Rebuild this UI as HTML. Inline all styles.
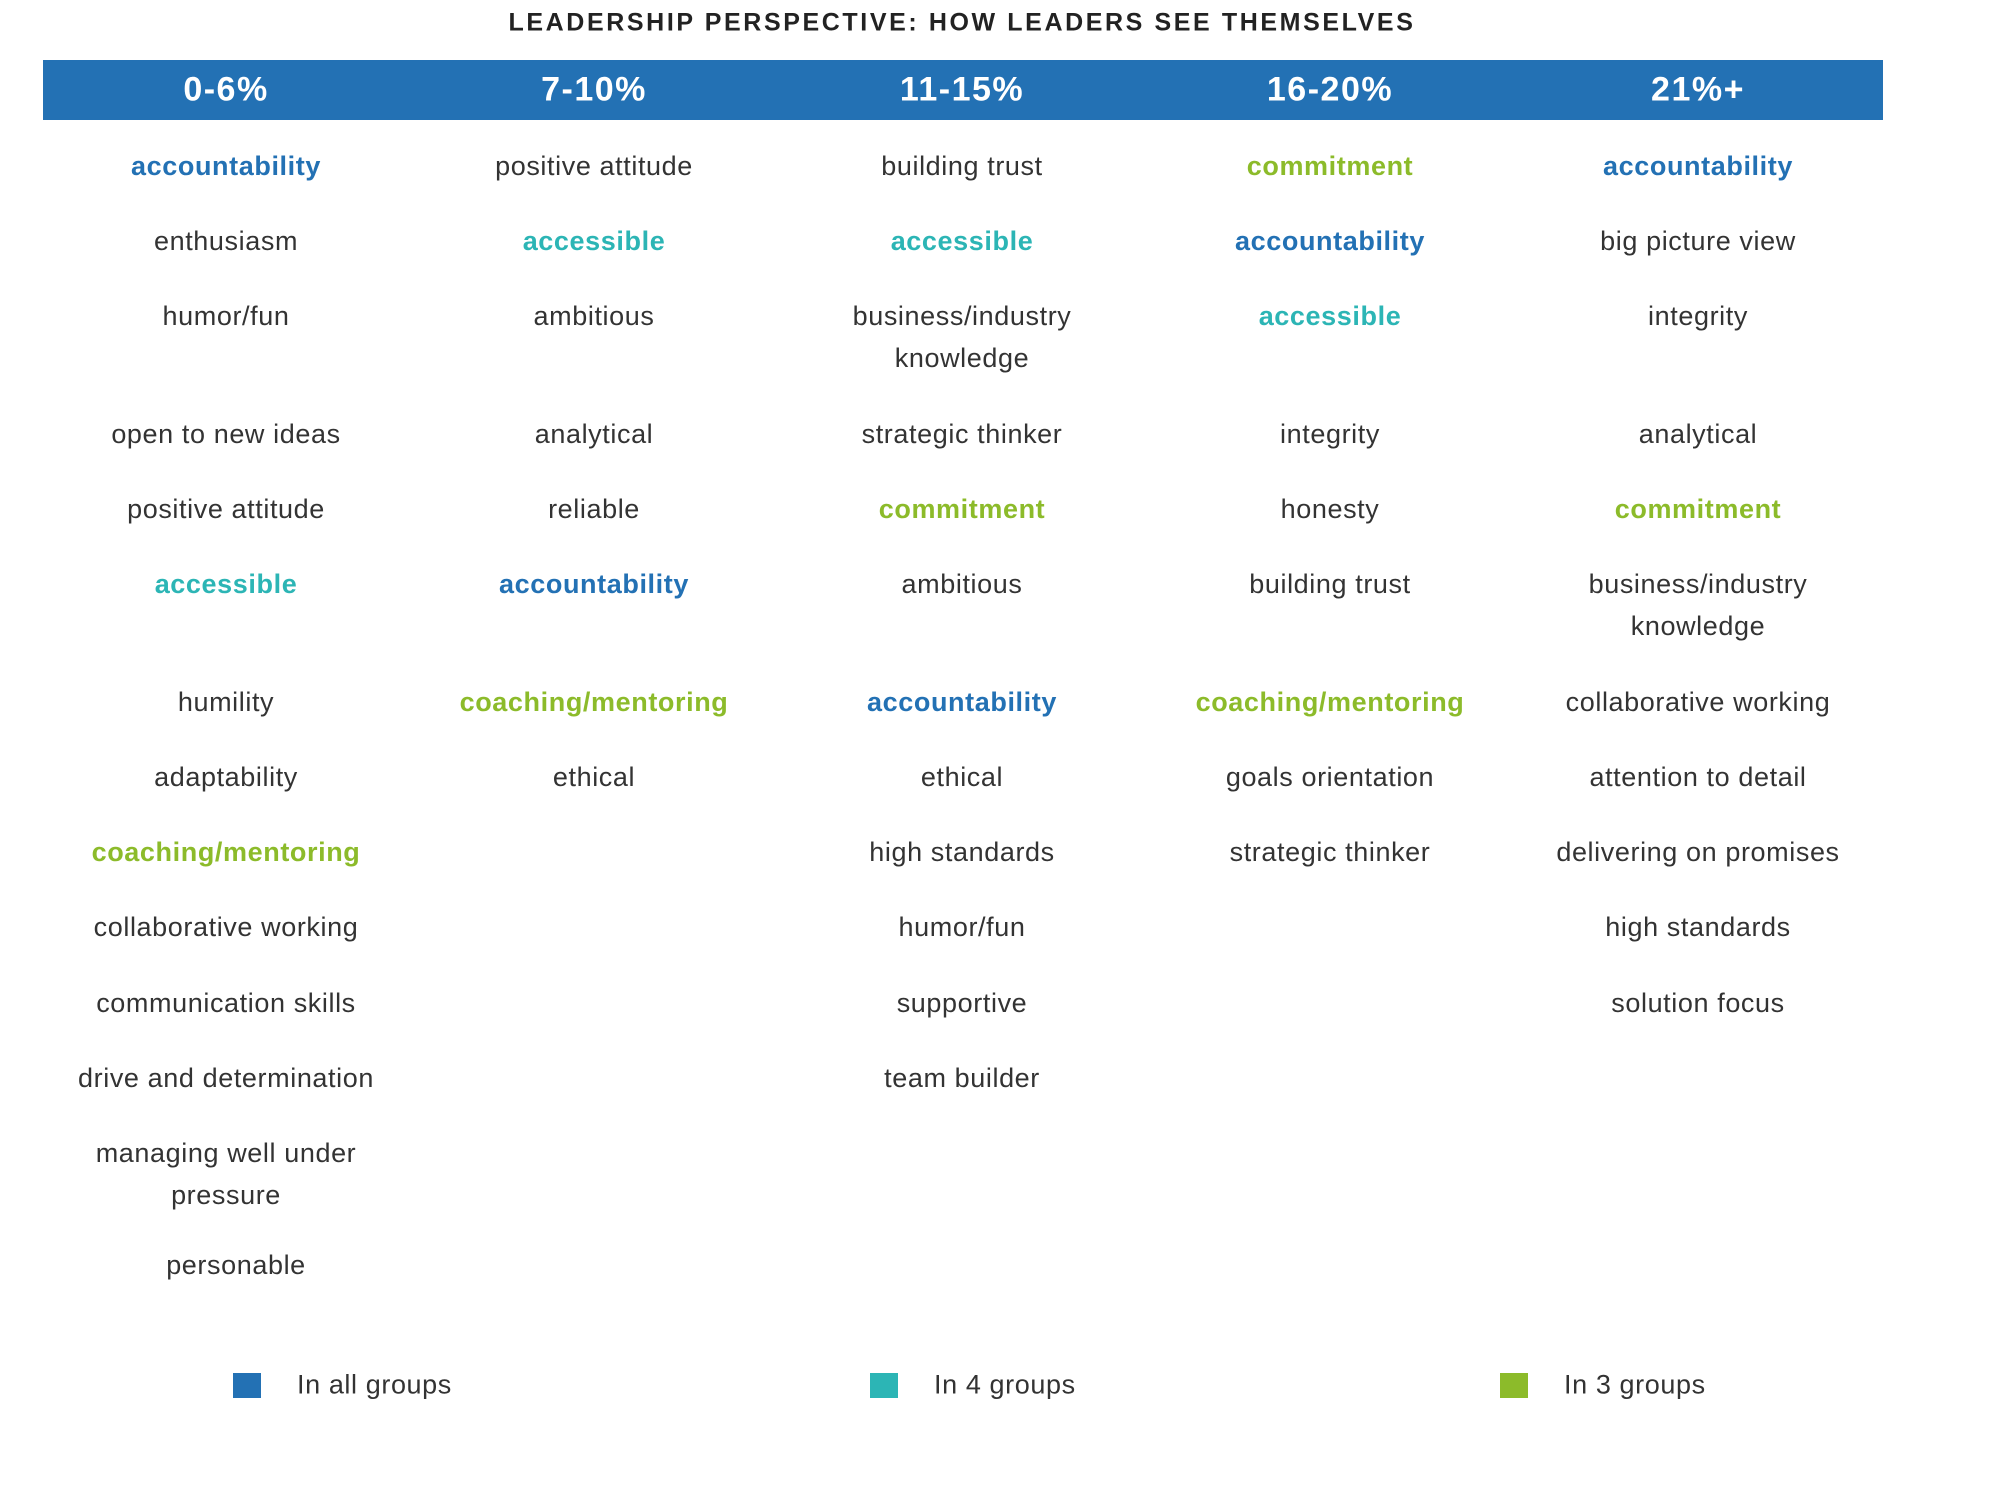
<!DOCTYPE html>
<html><head><meta charset="utf-8">
<style>
html,body{margin:0;padding:0;background:#fff;}
#root{position:relative;width:2000px;height:1505px;overflow:hidden;font-family:"Liberation Sans",sans-serif;}
.t{position:absolute;transform:translate(-50%,-50%);white-space:nowrap;text-align:center;font-size:27px;letter-spacing:0.6px;color:#333;line-height:42px;}
.b{font-weight:bold;}
#title{position:absolute;left:962px;top:23px;transform:translate(-50%,-50%);font-weight:bold;font-size:25px;color:#222;white-space:nowrap;letter-spacing:2.6px;}
#bar{position:absolute;left:43px;top:60px;width:1840px;height:60px;background:#2371b4;}
.h{position:absolute;top:90px;transform:translate(-50%,-50%);color:#fff;font-weight:bold;font-size:34px;letter-spacing:1.5px;white-space:nowrap;}
.sq{position:absolute;width:28px;height:25px;top:1373px;}
.lt{position:absolute;top:1385px;transform:translateY(-50%);font-size:27px;letter-spacing:0.6px;color:#333;white-space:nowrap;}
</style></head><body>
<div id="root">
<div id="title">LEADERSHIP PERSPECTIVE: HOW LEADERS SEE THEMSELVES</div>
<div id="bar"></div>
<div class="sq" style="left:233px;background:#2371b4"></div>
<div class="lt" style="left:297px">In all groups</div>
<div class="sq" style="left:870px;background:#2cb5b5"></div>
<div class="lt" style="left:934px">In 4 groups</div>
<div class="sq" style="left:1500px;background:#8cbb2a"></div>
<div class="lt" style="left:1564px">In 3 groups</div>
</div>
<script>
const headers=["0-6%","7-10%","11-15%","16-20%","21%+"];
const col0=[["accountability","a"],["enthusiasm"],["humor/fun"],["open to new ideas"],["positive attitude"],["accessible","f"],["humility"],["adaptability"],["coaching/mentoring","t"],["collaborative working"],["communication skills"],["drive and determination"],["managing well under<br>pressure"],["personable"]];
const col1=[["positive attitude"],["accessible","f"],["ambitious"],["analytical"],["reliable"],["accountability","a"],["coaching/mentoring","t"],["ethical"]];
const col2=[["building trust"],["accessible","f"],["business/industry<br>knowledge"],["strategic thinker"],["commitment","t"],["ambitious"],["accountability","a"],["ethical"],["high standards"],["humor/fun"],["supportive"],["team builder"]];
const col3=[["commitment","t"],["accountability","a"],["accessible","f"],["integrity"],["honesty"],["building trust"],["coaching/mentoring","t"],["goals orientation"],["strategic thinker"]];
const col4=[["accountability","a"],["big picture view"],["integrity"],["analytical"],["commitment","t"],["business/industry<br>knowledge"],["collaborative working"],["attention to detail"],["delivering on promises"],["high standards"],["solution focus"]];
const cols=[col0,col1,col2,col3,col4];
const colX=c=>226+c*368;
const rowY=[166,241,316,434,509,584,702,777,852,927,1003,1078,1153,1265];
const colors={a:"#2371b4",f:"#2cb5b5",t:"#8cbb2a"};
const root=document.getElementById('root');
headers.forEach((h,i)=>{const d=document.createElement('div');d.className='h';d.style.left=colX(i)+'px';d.textContent=h;


root.appendChild(d);});
cols.forEach((col,c)=>col.forEach((it,r)=>{const d=document.createElement('div');d.className='t'+(it[1]?' b':'');
const two=it[0].includes('<br>');
let x=colX(c); if(c===0&&r===13)x+=10;
d.style.left=x+'px';d.style.top=(rowY[r]+(two?21:0))+'px';
if(it[1])d.style.color=colors[it[1]];
d.innerHTML=it[0];


root.appendChild(d);}));
</script>
</body></html>
